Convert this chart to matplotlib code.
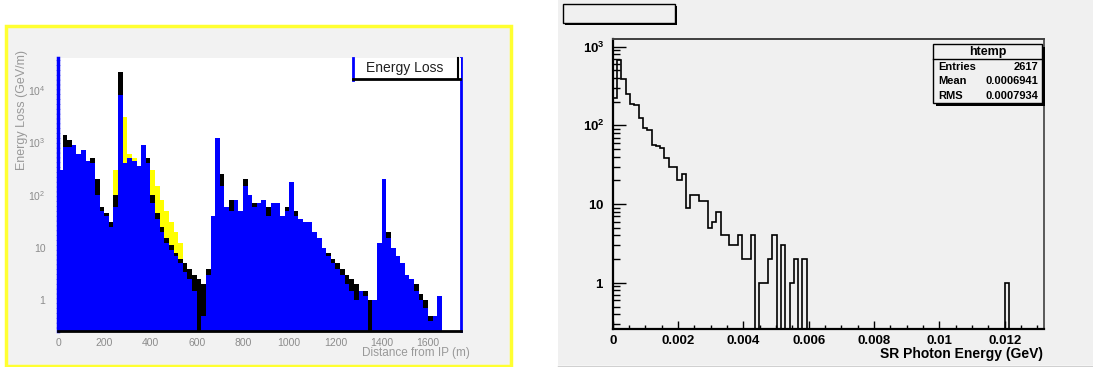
import matplotlib.pyplot as plt
from matplotlib.patches import Rectangle
from matplotlib.lines import Line2D
from matplotlib.ticker import LogLocator, MultipleLocator, NullFormatter
import numpy as np

plt.rcParams['font.family'] = ['Liberation Sans', 'DejaVu Sans']
plt.rcParams['mathtext.fontset'] = 'custom'
plt.rcParams['mathtext.rm'] = 'Liberation Sans'
plt.rcParams['mathtext.bf'] = 'Liberation Sans:bold'

# ---- left panel: energy loss along the beam line (20 m bins, 0..1740 m) ----
distance_edges = np.arange(0, 1741, 20)
blue_loss = [
    300, 800, 800, 900, 600, 700, 450, 400, 100, 50,
    40, 25, 60, 8000, 400, 500, 450, 350, 900, 400,
    70, 35, 20, 12, 9, 7, 5, 3.5, 2.5, 1.5,
    0, 0.5, 3, 40, 1200, 150, 60, 50, 80, 50,
    150, 100, 60, 70, 80, 40, 70, 70, 40, 50,
    180, 40, 35, 30, 30, 20, 15, 10, 7, 5,
    4, 3, 2, 1.5, 1, 1.5, 1.2, 0, 1, 12,
    200, 15, 10, 7, 5, 3, 2.5, 1.5, 1, 0.7,
    0.4, 0.5, 1.2, 0, 0, 0, 0,
]
black_loss = [
    100, 1400, 1100, 700, 500, 500, 400, 500, 200, 60,
    45, 30, 100, 22000, 300, 250, 200, 300, 700, 500,
    100, 45, 25, 15, 11, 8, 6, 5, 4, 3,
    2.5, 2, 4, 30, 800, 250, 40, 80, 60, 40,
    200, 80, 70, 50, 60, 60, 50, 45, 35, 60,
    120, 50, 30, 25, 25, 18, 12, 10, 8, 6,
    5, 4, 3, 2.5, 2, 1.5, 1.5, 1, 1, 12,
    100, 20, 8, 6, 4, 3, 2, 2, 1.3, 1,
    0.5, 0.3, 0, 0, 0, 0, 0,
]
yellow_loss = [
    0, 0, 0, 0, 0, 0, 0, 0, 0, 0,
    0, 0, 300, 5000, 3000, 600, 500, 150, 0, 250,
    300, 150, 80, 50, 30, 20, 12, 5, 0, 0,
    0, 0, 0, 0, 0, 0, 0, 0, 0, 0,
    0, 0, 0, 0, 0, 0, 0, 0, 0, 0,
    0, 0, 0, 0, 0, 0, 0, 0, 0, 0,
    0, 0, 0, 0, 0, 0, 0, 0, 0, 0,
    0, 0, 0, 0, 0, 0, 0, 0, 0, 0,
    0, 0, 0, 0, 0, 0, 0,
]
loss_ticks = [0, 200, 400, 600, 800, 1000, 1200, 1400, 1600]
loss_decades = [1, 10, 100, 1000, 10000]
loss_decade_labels = ['1', '10', r'$10^{2}$', r'$10^{3}$', r'$10^{4}$']

# ---- right panel: SR photon energy histogram (100 bins, 0..0.0132 GeV) ----
photon_edges = np.linspace(0, 0.0132, 101)
photon_counts = [
    225, 680, 385, 248, 187, 181, 123, 92, 88, 57,
    55, 52, 38, 30, 30, 20, 24, 9, 13, 13,
    11, 11, 5, 6, 8, 4, 4, 3, 3, 4,
    2, 2, 4, 0, 1, 1, 2, 4, 0, 3,
    0, 1, 2, 0, 2, 0, 0, 0, 0, 0,
    0, 0, 0, 0, 0, 0, 0, 0, 0, 0,
    0, 0, 0, 0, 0, 0, 0, 0, 0, 0,
    0, 0, 0, 0, 0, 0, 0, 0, 0, 0,
    0, 0, 0, 0, 0, 0, 0, 0, 0, 0,
    0, 1, 0, 0, 0, 0, 0, 0, 0, 0,
]
photon_ticks = [0, 0.002, 0.004, 0.006, 0.008, 0.01, 0.012]
photon_tick_labels = ['0', '0.002', '0.004', '0.006', '0.008', '0.01', '0.012']
photon_decades = [1, 10, 100, 1000]
photon_decade_labels = [r'$\mathbf{1}$', r'$\mathbf{10}$', r'$\mathbf{10^{2}}$', r'$\mathbf{10^{3}}$']
stats_rows = [('Entries', '2617'), ('Mean', '0.0006941'), ('RMS', '0.0007934')]

W, H = 1093, 367
FLOOR = 1e-3  # empty bins are drawn down to here (below the visible range)

fig = plt.figure(figsize=(W / 100, H / 100), dpi=100)


def px_rect(x0, y0, x1, y1):
    # pixel box (origin top-left) -> figure fraction [left, bottom, width, height]
    return [x0 / W, 1 - y1 / H, (x1 - x0) / W, (y1 - y0) / H]


def fig_box(x0, y0, x1, y1, **kw):
    l, b, w, h = px_rect(x0, y0, x1, y1)
    fig.add_artist(Rectangle((l, b), w, h, transform=fig.transFigure, **kw))


def fig_line(xs, ys, **kw):
    fig.add_artist(Line2D([x / W for x in xs], [1 - y / H for y in ys],
                          transform=fig.transFigure, **kw))


def nonzero(values):
    v = np.asarray(values, dtype=float)
    return np.where(v > 0, v, FLOOR)


# backgrounds
fig_box(6, 26, 511, 366, facecolor='#f2f2f2', edgecolor='#ffff30', lw=2.5, zorder=0)
fig_box(558, 0, 1093, 365, facecolor='#f0f0f0', edgecolor='none', zorder=0)
fig_line([558, 1093], [365.5, 365.5], color='#d0d0d0', lw=1, zorder=0)

# ---- left panel ----
ax1 = fig.add_axes(px_rect(58, 58, 461, 331))
ax1.set_facecolor('white')
ax1.stairs(nonzero(yellow_loss), distance_edges, fill=True, color='#ffff00', baseline=FLOOR, zorder=1)
ax1.stairs(nonzero(black_loss), distance_edges, fill=True, color='black', baseline=FLOOR, zorder=2)
ax1.stairs(nonzero(blue_loss), distance_edges, fill=True, color='#0000ff', baseline=FLOOR, zorder=3)
ax1.set_yscale('log')
ax1.set_xlim(0, 1743)
ax1.set_ylim(0.26, 40000)
ax1.set_xticks(loss_ticks, [str(t) for t in loss_ticks])
ax1.set_yticks(loss_decades, loss_decade_labels)
ax1.yaxis.set_minor_formatter(NullFormatter())
ax1.tick_params(which='both', length=0, labelsize=7.5, labelcolor='#8c8c8c')
ax1.tick_params(axis='y', pad=9)
ax1.tick_params(axis='x', pad=5)
ax1.spines['top'].set_visible(False)
ax1.spines['left'].set_color('#0000ff')
ax1.spines['left'].set_linewidth(2.5)
ax1.spines['left'].set_linestyle((0, (0.6, 0.8)))
ax1.spines['right'].set_color('#0000ff')
ax1.spines['right'].set_linewidth(2)
ax1.spines['bottom'].set_color('black')
ax1.spines['bottom'].set_linewidth(2)
for sp in ax1.spines.values():
    sp.set_zorder(5)

fig_box(352, 58, 461, 79, facecolor='white', edgecolor='none', zorder=6)
fig_line([353, 353], [58, 80], color='#0000ff', lw=2, zorder=7)
fig_line([353, 460], [79, 79], color='black', lw=2, zorder=7)
fig_line([458, 458], [58, 79], color='black', lw=1.5, zorder=7)
fig.text(405 / W, 1 - 68 / H, 'Energy Loss', ha='center', va='center', fontsize=10, color='#202020', zorder=8)
fig.text(22 / W, 1 - 50 / H, 'Energy Loss (GeV/m)', rotation=90, ha='center', va='top',
         fontsize=9, color='#999999')
fig.text(470 / W, 1 - 353 / H, 'Distance from IP (m)', ha='right', va='center',
         fontsize=8.5, color='#999999')

# ---- right panel ----
fig_box(565, 6, 677, 25, facecolor='black', edgecolor='none', zorder=1)
fig_box(563, 4, 675, 23, facecolor='#f0f0f0', edgecolor='black', lw=1, zorder=2)

ax2 = fig.add_axes(px_rect(612.7, 39, 1044, 329.3))
ax2.set_facecolor('#f0f0f0')
ax2.stairs(nonzero(photon_counts), photon_edges, color='black', lw=1.2, baseline=FLOOR)
ax2.set_yscale('log')
ax2.set_xlim(0, 0.0132)
ax2.set_ylim(0.257, 1250)
ax2.set_xticks(photon_ticks, photon_tick_labels)
ax2.xaxis.set_minor_locator(MultipleLocator(0.0005))
ax2.set_yticks(photon_decades, photon_decade_labels)
ax2.yaxis.set_minor_locator(LogLocator(base=10, subs=np.arange(2, 10)))
ax2.yaxis.set_minor_formatter(NullFormatter())
ax2.tick_params(which='both', direction='in', width=1, color='black', labelsize=9.5)
ax2.tick_params(axis='y', which='major', length=9.5, pad=6)
ax2.tick_params(axis='y', which='minor', length=4.8)
ax2.tick_params(axis='x', which='major', length=6, pad=4)
ax2.tick_params(axis='x', which='minor', length=3)
for lab in ax2.get_xticklabels():
    lab.set_fontweight('bold')
ax2.spines['left'].set_linewidth(1.6)
ax2.spines['bottom'].set_linewidth(1.6)
ax2.spines['top'].set_color('#404040')
ax2.spines['right'].set_color('#404040')
ax2.spines['top'].set_linewidth(1.4)
ax2.spines['right'].set_linewidth(1.2)
fig.text(1043 / W, 1 - 354 / H, 'SR Photon Energy (GeV)', ha='right', va='center',
         fontsize=10, fontweight='bold')

# stats box
fig_box(936, 47, 1045, 106, facecolor='black', edgecolor='none', zorder=5)
fig_box(933, 44, 1042, 103, facecolor='#f0f0f0', edgecolor='black', lw=1, zorder=6)
fig_line([933, 1042], [59, 59], color='black', lw=1, zorder=7)
fig.text(987.5 / W, 1 - 52 / H, 'htemp', ha='center', va='center', fontsize=9, fontweight='bold', zorder=8)
for i, (name, value) in enumerate(stats_rows):
    y = 1 - (67 + i * 14.5) / H
    fig.text(938 / W, y, name, ha='left', va='center', fontsize=8, fontweight='bold', zorder=8)
    fig.text(1038 / W, y, value, ha='right', va='center', fontsize=8, fontweight='bold', zorder=8)

fig.savefig('out.png', dpi=100)
